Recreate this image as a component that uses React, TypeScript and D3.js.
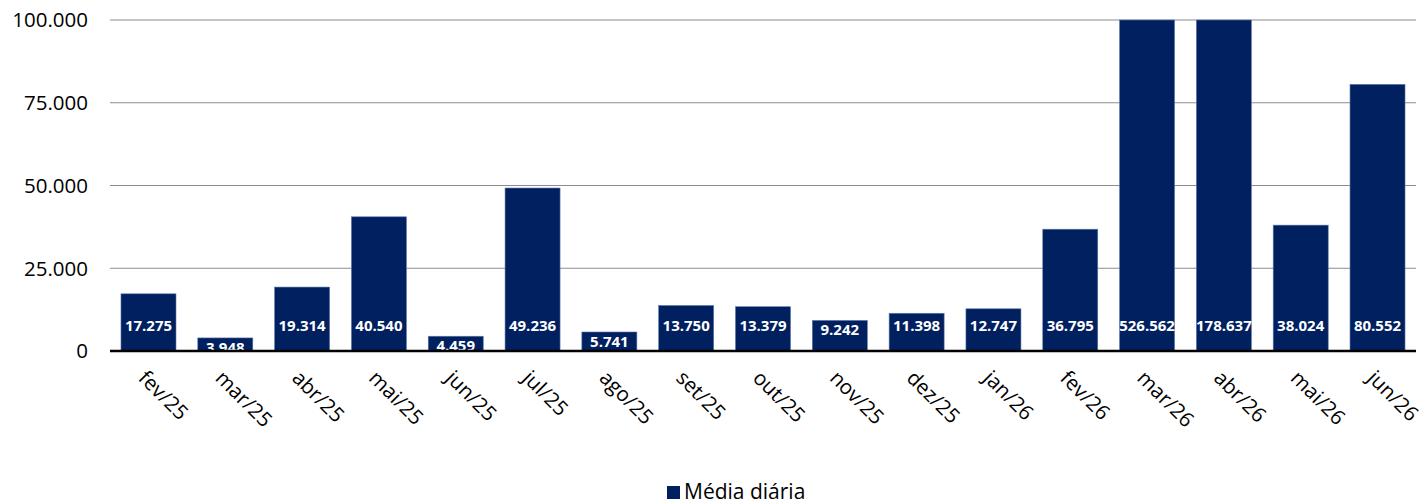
import React from "react";
import * as d3 from "d3";

const categories = ["fev/25","mar/25","abr/25","mai/25","jun/25","jul/25","ago/25","set/25","out/25","nov/25","dez/25","jan/26","fev/26","mar/26","abr/26","mai/26","jun/26"];
const values = [17275,3948,19314,40540,4459,49236,5741,13750,13379,9242,11398,12747,36795,526562,178637,38024,80552];
const yTicks = [0,25000,50000,75000,100000];
const seriesName = "Média diária";

const W = 1427, H = 504;
const left = 110, right = 1416, top = 20, bottom = 351;
const barColor = "#002060";
const font = "'Open Sans', sans-serif";

const fmt = (v: number) => d3.format(",")(v).replace(/,/g, ".");

export default function App() {
  const x = d3.scaleBand<string>().domain(categories).range([left, right]).paddingInner(0.284).paddingOuter(0.143);
  const y = d3.scaleLinear().domain([0, 100000]).range([bottom, top]).clamp(true);
  return (
    <svg width={W} height={H} style={{ position: "absolute", left: 0, top: 0 }} fontFamily={font}>
      {yTicks.filter(t => t > 0).map(t => (
        <line key={t} x1={left} x2={right} y1={y(t)} y2={y(t)} stroke="#8c8c8c" strokeWidth={1.2} />
      ))}
      {yTicks.map(t => (
        <text key={t} x={88} y={y(t)} dy="0.36em" textAnchor="end" fontSize={20.5} fill="#000">{fmt(t)}</text>
      ))}
      {categories.map((c, i) => {
        const v = values[i];
        const bx = x(c)!;
        const bt = y(v);
        const cy = Math.max(bottom - 25, bt + 9.5);
        return (
          <g key={c}>
            <rect x={bx} y={bt} width={x.bandwidth()} height={bottom - bt} fill={barColor} stroke="#5a77ad" strokeWidth={0.6} />
            <text x={bx + x.bandwidth() / 2} y={cy} dy="0.36em" textAnchor="middle" fontSize={15} fontWeight="bold" fill="#fff">{fmt(v)}</text>
          </g>
        );
      })}
      <line x1={left} x2={right} y1={bottom} y2={bottom} stroke="#000" strokeWidth={2.5} />
      {categories.map(c => {
        const cx = x(c)! + x.bandwidth() / 2;
        return (
          <text key={c} transform={`translate(${cx - 1},${369}) rotate(45)`} textAnchor="start" dy="0.7em" fontSize={20.5} fill="#000">{c}</text>
        );
      })}
      <rect x={667} y={486} width={13} height={13} fill={barColor} />
      <text x={684} y={499} fontSize={21} fill="#000">{seriesName}</text>
    </svg>
  );
}
